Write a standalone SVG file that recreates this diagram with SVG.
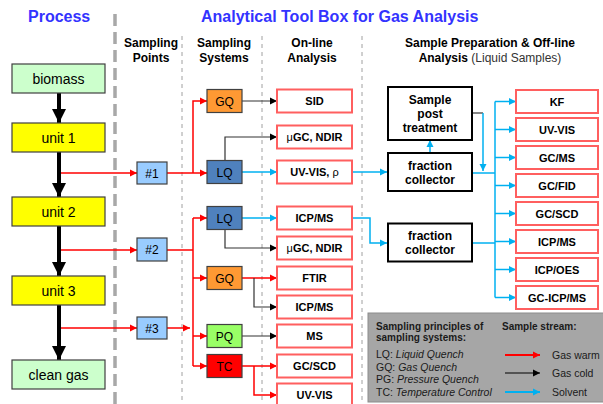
<svg xmlns="http://www.w3.org/2000/svg" width="603" height="404" viewBox="0 0 603 404">
<defs>
<marker id="aR" markerUnits="userSpaceOnUse" markerWidth="8" markerHeight="8" refX="7" refY="4" orient="auto"><path d="M0,0.5 L7,4 L0,7.5 Z" fill="#ff0000"/></marker>
<marker id="aK" markerUnits="userSpaceOnUse" markerWidth="8" markerHeight="8" refX="7" refY="4" orient="auto"><path d="M0,0.5 L7,4 L0,7.5 Z" fill="#000"/></marker>
<marker id="aC" markerUnits="userSpaceOnUse" markerWidth="8" markerHeight="8" refX="7" refY="4" orient="auto"><path d="M0,0.5 L7,4 L0,7.5 Z" fill="#00b0f0"/></marker>
<marker id="aBig" markerUnits="userSpaceOnUse" markerWidth="16" markerHeight="16" refX="14" refY="8" orient="auto"><path d="M0,1 L14,8 L0,15 Z" fill="#000"/></marker>
</defs>
<style>
.t{font-family:"Liberation Sans",Arial,sans-serif;fill:#000}
.ttl{font-size:16px;font-weight:bold;fill:#3333ff}
.hd{font-size:12px;font-weight:bold;text-anchor:middle}
.pb{stroke:#404040;stroke-width:1.2}
.pt{font-size:14px;text-anchor:middle}
.sb{stroke:#404040;stroke-width:1.2}
.st{font-size:12px;text-anchor:middle}
.ob{fill:#fff;stroke:#ff5f5f;stroke-width:2}
.ot{font-size:11px;font-weight:bold;text-anchor:middle}
.kb{fill:#fff;stroke:#000;stroke-width:2}
.kt{font-size:12px;font-weight:bold;text-anchor:middle}
.lt{font-size:10.5px;fill:#1a1a1a}
.lh{font-size:10px;font-weight:bold;fill:#1a1a1a}
.r{stroke:#ff0000;stroke-width:1.5;fill:none}
.k{stroke:#333;stroke-width:1.2;fill:none}
.c{stroke:#00b0f0;stroke-width:1.5;fill:none}
.thin{stroke:#a0a0a0;stroke-width:1;stroke-dasharray:4 4}
</style>
<rect width="603" height="404" fill="#fff"/>
<!-- dividers -->
<line x1="115" y1="14" x2="115" y2="404" stroke="#a8a8a8" stroke-width="3.5" stroke-dasharray="12 6"/>
<line class="thin" x1="182" y1="36" x2="182" y2="404"/>
<line class="thin" x1="262" y1="36" x2="262" y2="404"/>
<line class="thin" x1="362" y1="36" x2="362" y2="404"/>
<!-- titles -->
<text class="t ttl" x="28" y="22">Process</text>
<text class="t ttl" x="201" y="22">Analytical Tool Box for Gas Analysis</text>
<text class="t hd" x="151" y="47">Sampling</text>
<text class="t hd" x="151" y="62">Points</text>
<text class="t hd" x="224" y="47">Sampling</text>
<text class="t hd" x="224" y="62">Systems</text>
<text class="t hd" x="312" y="47">On-line</text>
<text class="t hd" x="312" y="62">Analysis</text>
<text class="t hd" x="490" y="47">Sample Preparation &amp; Off-line</text>
<text class="t hd" x="490" y="62">Analysis <tspan font-weight="normal" fill="#333">(Liquid Samples)</tspan></text>

<!-- connectors -->
<g id="connectors">
<line x1="59" y1="93" x2="59" y2="123" stroke="#000" stroke-width="4" marker-end="url(#aBig)"/>
<line x1="59" y1="152" x2="59" y2="197" stroke="#000" stroke-width="4" marker-end="url(#aBig)"/>
<line x1="59" y1="226" x2="59" y2="276" stroke="#000" stroke-width="4" marker-end="url(#aBig)"/>
<line x1="59" y1="305" x2="59" y2="360" stroke="#000" stroke-width="4" marker-end="url(#aBig)"/>
<line class="r" x1="61" y1="173" x2="137" y2="173" marker-end="url(#aR)"/>
<line class="r" x1="61" y1="250" x2="137" y2="250" marker-end="url(#aR)"/>
<line class="r" x1="61" y1="328" x2="137" y2="328" marker-end="url(#aR)"/>
<!-- group 1 -->
<polyline class="r" points="167,173 207,173" marker-end="url(#aR)"/>
<polyline class="r" points="193,173 193,101 207,101" marker-end="url(#aR)"/>
<line class="k" x1="242" y1="101" x2="277" y2="101" marker-end="url(#aK)"/>
<polyline class="k" points="225,161 225,137 277,137" stroke="#555" marker-end="url(#aK)"/>
<line class="c" x1="242" y1="172" x2="277" y2="172" marker-end="url(#aC)"/>
<line class="c" x1="352" y1="172" x2="387" y2="172" marker-end="url(#aC)"/>
<line class="c" x1="430" y1="153" x2="430" y2="140" marker-end="url(#aC)"/>
<polyline class="k" points="472,113 483,113"/>
<line class="c" x1="483" y1="113" x2="483" y2="171" marker-end="url(#aC)"/>
<line class="c" x1="472" y1="173" x2="495" y2="173"/>
<line class="c" x1="495" y1="101.5" x2="495" y2="297.5"/>
<line class="c" x1="495" y1="101.5" x2="516" y2="101.5" marker-end="url(#aC)"/>
<line class="c" x1="495" y1="129.5" x2="516" y2="129.5" marker-end="url(#aC)"/>
<line class="c" x1="495" y1="157.5" x2="516" y2="157.5" marker-end="url(#aC)"/>
<line class="c" x1="495" y1="185.5" x2="516" y2="185.5" marker-end="url(#aC)"/>
<line class="c" x1="495" y1="213.5" x2="516" y2="213.5" marker-end="url(#aC)"/>
<line class="c" x1="495" y1="241.5" x2="516" y2="241.5" marker-end="url(#aC)"/>
<line class="c" x1="495" y1="269.5" x2="516" y2="269.5" marker-end="url(#aC)"/>
<line class="c" x1="495" y1="297.5" x2="516" y2="297.5" marker-end="url(#aC)"/>
<!-- group 2 -->
<line class="r" x1="167" y1="250" x2="193" y2="250" stroke-width="2"/>
<line class="r" x1="167" y1="328" x2="190" y2="328" marker-end="url(#aR)"/>
<line class="r" x1="193" y1="218" x2="193" y2="366"/>
<line class="r" x1="193" y1="218" x2="207" y2="218" marker-end="url(#aR)"/>
<line class="r" x1="193" y1="278" x2="207" y2="278" marker-end="url(#aR)"/>
<line class="r" x1="193" y1="336" x2="207" y2="336" marker-end="url(#aR)"/>
<line class="r" x1="193" y1="366" x2="207" y2="366" marker-end="url(#aR)"/>
<line class="c" x1="242" y1="218" x2="277" y2="218" marker-end="url(#aC)"/>
<polyline class="k" points="225,230 225,248 277,248" stroke="#555" marker-end="url(#aK)"/>
<line class="r" x1="242" y1="278" x2="277" y2="278" marker-end="url(#aR)"/>
<polyline class="k" points="254,278 254,307 277,307" marker-end="url(#aK)"/>
<line class="k" x1="242" y1="336" x2="277" y2="336" marker-end="url(#aK)"/>
<line class="r" x1="242" y1="366" x2="277" y2="366" marker-end="url(#aR)"/>
<polyline class="r" points="254,366 254,395 277,395" marker-end="url(#aR)"/>
<polyline class="c" points="352,218 370,218 370,243 387,243" marker-end="url(#aC)"/>
<line class="c" x1="472" y1="243" x2="495" y2="243"/>
</g>

<!-- process nodes -->
<g id="biomass"><rect class="pb" x="12" y="64" width="93" height="29" fill="#ccffcc"/><text class="t pt" x="58.5" y="83.5">biomass</text></g>
<g id="unit1"><rect class="pb" x="12" y="123" width="93" height="29" fill="#ffff00"/><text class="t pt" x="58.5" y="142.5">unit 1</text></g>
<g id="unit2"><rect class="pb" x="12" y="197" width="93" height="29" fill="#ffff00"/><text class="t pt" x="58.5" y="216.5">unit 2</text></g>
<g id="unit3"><rect class="pb" x="12" y="276" width="93" height="29" fill="#ffff00"/><text class="t pt" x="58.5" y="295.5">unit 3</text></g>
<g id="cleangas"><rect class="pb" x="12" y="360" width="93" height="29" fill="#ccffcc"/><text class="t pt" x="58.5" y="379.5">clean gas</text></g>

<!-- sampling points -->
<g id="sp1"><rect class="sb" x="137" y="162" width="30" height="22" fill="#99ccff"/><text class="t st" x="152" y="177.5">#1</text></g>
<g id="sp2"><rect class="sb" x="137" y="238" width="30" height="23" fill="#99ccff"/><text class="t st" x="152" y="254">#2</text></g>
<g id="sp3"><rect class="sb" x="137" y="317" width="30" height="22" fill="#99ccff"/><text class="t st" x="152" y="332.5">#3</text></g>

<!-- sampling systems -->
<g id="gq1"><rect class="sb" x="207" y="89.5" width="35" height="23" fill="#ff9933"/><text class="t st" x="224.5" y="105.5">GQ</text></g>
<g id="lq1"><rect class="sb" x="207" y="160.5" width="35" height="23" fill="#4f81bd"/><text class="t st" x="224.5" y="176.5">LQ</text></g>
<g id="lq2"><rect class="sb" x="207" y="206.5" width="35" height="23" fill="#4f81bd"/><text class="t st" x="224.5" y="222.5">LQ</text></g>
<g id="gq2"><rect class="sb" x="207" y="266.5" width="35" height="23" fill="#ff9933"/><text class="t st" x="224.5" y="282.5">GQ</text></g>
<g id="pq"><rect class="sb" x="207" y="324.5" width="35" height="23" fill="#99ff66"/><text class="t st" x="224.5" y="340.5">PQ</text></g>
<g id="tc"><rect class="sb" x="207" y="354.5" width="35" height="23" fill="#ff0000"/><text class="t st" x="224.5" y="370.5">TC</text></g>

<!-- online analysis -->
<g id="sid"><rect class="ob" x="277" y="89.5" width="75" height="23"/><text class="t ot" x="314.5" y="105">SID</text></g>
<g id="ugc1"><rect class="ob" x="277" y="125.5" width="75" height="23"/><text class="t ot" x="314.5" y="141"><tspan font-weight="normal">μ</tspan>GC, NDIR</text></g>
<g id="uvvis1"><rect class="ob" x="277" y="160.5" width="75" height="23"/><text class="t ot" x="314.5" y="176">UV-VIS, <tspan font-weight="normal">ρ</tspan></text></g>
<g id="icpms1"><rect class="ob" x="277" y="206.5" width="75" height="23"/><text class="t ot" x="314.5" y="222">ICP/MS</text></g>
<g id="ugc2"><rect class="ob" x="277" y="236.5" width="75" height="23"/><text class="t ot" x="314.5" y="252"><tspan font-weight="normal">μ</tspan>GC, NDIR</text></g>
<g id="ftir"><rect class="ob" x="277" y="266.5" width="75" height="23"/><text class="t ot" x="314.5" y="282">FTIR</text></g>
<g id="icpms2"><rect class="ob" x="277" y="295.5" width="75" height="23"/><text class="t ot" x="314.5" y="311">ICP/MS</text></g>
<g id="ms"><rect class="ob" x="277" y="324.5" width="75" height="23"/><text class="t ot" x="314.5" y="340">MS</text></g>
<g id="gcscd1"><rect class="ob" x="277" y="354.5" width="75" height="23"/><text class="t ot" x="314.5" y="370">GC/SCD</text></g>
<g id="uvvis2"><rect class="ob" x="277" y="383.5" width="75" height="23"/><text class="t ot" x="314.5" y="399">UV-VIS</text></g>

<!-- sample prep -->
<g id="posttreat"><rect class="kb" x="388" y="87" width="84" height="53"/><text class="t kt" x="430" y="104">Sample</text><text class="t kt" x="430" y="118">post</text><text class="t kt" x="430" y="132">treatment</text></g>
<g id="fc1"><rect class="kb" x="388" y="153" width="84" height="38"/><text class="t kt" x="430" y="170">fraction</text><text class="t kt" x="430" y="184">collector</text></g>
<g id="fc2"><rect class="kb" x="388" y="223.5" width="84" height="38"/><text class="t kt" x="430" y="240">fraction</text><text class="t kt" x="430" y="254">collector</text></g>

<!-- offline -->
<g id="kf"><rect class="ob" x="516" y="90" width="82" height="23"/><text class="t ot" x="557" y="105.5">KF</text></g>
<g id="uvvis3"><rect class="ob" x="516" y="118" width="82" height="23"/><text class="t ot" x="557" y="133.5">UV-VIS</text></g>
<g id="gcms"><rect class="ob" x="516" y="146" width="82" height="23"/><text class="t ot" x="557" y="161.5">GC/MS</text></g>
<g id="gcfid"><rect class="ob" x="516" y="174" width="82" height="23"/><text class="t ot" x="557" y="189.5">GC/FID</text></g>
<g id="gcscd2"><rect class="ob" x="516" y="202" width="82" height="23"/><text class="t ot" x="557" y="217.5">GC/SCD</text></g>
<g id="icpms3"><rect class="ob" x="516" y="230" width="82" height="23"/><text class="t ot" x="557" y="245.5">ICP/MS</text></g>
<g id="icpoes"><rect class="ob" x="516" y="258" width="82" height="23"/><text class="t ot" x="557" y="273.5">ICP/OES</text></g>
<g id="gcicpms"><rect class="ob" x="516" y="286" width="82" height="23"/><text class="t ot" x="557" y="301.5">GC-ICP/MS</text></g>

<!-- legend -->
<g id="legend">
<rect x="368" y="313" width="240" height="89" fill="#a6a6a6" stroke="#8c8c8c" stroke-width="1"/>
<text class="t lh" x="376" y="330">Sampling principles of</text>
<text class="t lh" x="376" y="341">sampling systems:</text>
<text class="t lh" x="502" y="330">Sample stream:</text>
<text class="t lt" x="376" y="358">LQ: <tspan font-style="italic">Liquid Quench</tspan></text>
<text class="t lt" x="376" y="370.5">GQ: <tspan font-style="italic">Gas Quench</tspan></text>
<text class="t lt" x="376" y="383">PG: <tspan font-style="italic">Pressure Quench</tspan></text>
<text class="t lt" x="376" y="396">TC: <tspan font-style="italic">Temperature Control</tspan></text>
<line x1="505" y1="355" x2="540" y2="355" stroke="#ff0000" stroke-width="2" marker-end="url(#aR)"/>
<line x1="505" y1="373" x2="540" y2="373" stroke="#000" stroke-width="1.2" marker-end="url(#aK)"/>
<line x1="505" y1="392" x2="540" y2="392" stroke="#00b0f0" stroke-width="2" marker-end="url(#aC)"/>
<text class="t lt" x="552" y="358.5">Gas warm</text>
<text class="t lt" x="552" y="377">Gas cold</text>
<text class="t lt" x="552" y="395.5">Solvent</text>
</g>
</svg>
